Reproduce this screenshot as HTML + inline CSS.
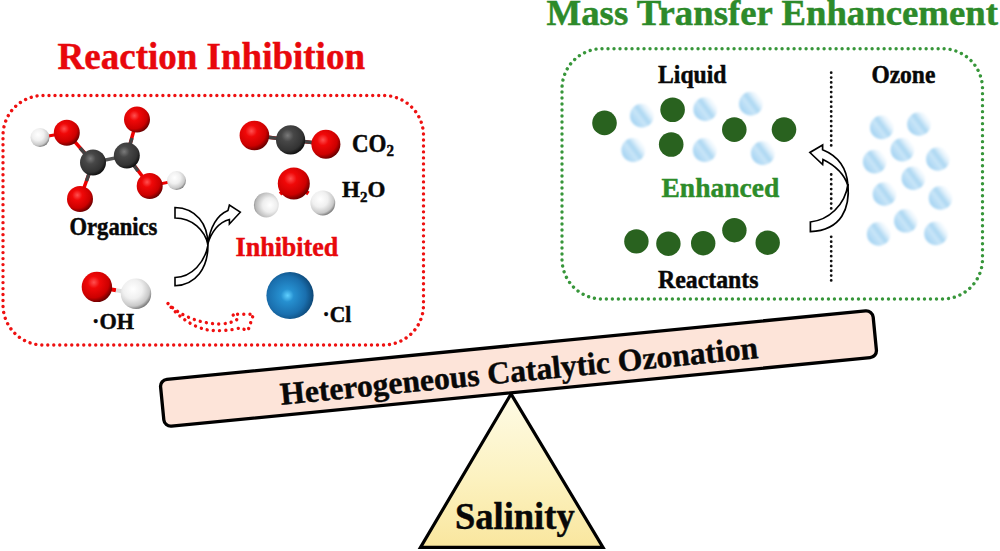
<!DOCTYPE html>
<html><head><meta charset="utf-8">
<style>
html,body{margin:0;padding:0;background:#fff;width:1000px;height:551px;overflow:hidden}
svg{display:block}
text{font-family:"Liberation Serif",serif;font-weight:bold;stroke:currentColor;stroke-width:0.45px;paint-order:stroke}
</style></head>
<body>
<svg width="1000" height="551" viewBox="0 0 1000 551">
<defs>
  <radialGradient id="gO" cx="0.38" cy="0.35" r="0.7" fx="0.4" fy="0.35">
    <stop offset="0" stop-color="#ff5050"/>
    <stop offset="0.28" stop-color="#f00808"/>
    <stop offset="0.72" stop-color="#cc0000"/>
    <stop offset="1" stop-color="#5a0000"/>
  </radialGradient>
  <radialGradient id="gC" cx="0.38" cy="0.35" r="0.7" fx="0.4" fy="0.35">
    <stop offset="0" stop-color="#7a7a7a"/>
    <stop offset="0.3" stop-color="#474747"/>
    <stop offset="0.75" stop-color="#333"/>
    <stop offset="1" stop-color="#080808"/>
  </radialGradient>
  <radialGradient id="gH" cx="0.38" cy="0.35" r="0.7" fx="0.4" fy="0.35">
    <stop offset="0" stop-color="#ffffff"/>
    <stop offset="0.45" stop-color="#f0f0f0"/>
    <stop offset="0.8" stop-color="#c8c8c8"/>
    <stop offset="1" stop-color="#6a6a6a"/>
  </radialGradient>
  <radialGradient id="gHm" cx="0.62" cy="0.5" r="0.72" fx="0.65" fy="0.5">
    <stop offset="0" stop-color="#ffffff"/>
    <stop offset="0.4" stop-color="#eeeeee"/>
    <stop offset="0.78" stop-color="#b8b8b8"/>
    <stop offset="1" stop-color="#555555"/>
  </radialGradient>
  <radialGradient id="gCl" cx="0.42" cy="0.5" r="0.62" fx="0.45" fy="0.5">
    <stop offset="0" stop-color="#5fd0ff"/>
    <stop offset="0.22" stop-color="#2690d0"/>
    <stop offset="0.65" stop-color="#1a6fae"/>
    <stop offset="1" stop-color="#0a3d68"/>
  </radialGradient>
  <linearGradient id="gB" x1="0.1" y1="0.8" x2="0.9" y2="0.2">
    <stop offset="0" stop-color="#a4d3f2"/>
    <stop offset="0.38" stop-color="#c8e5f8"/>
    <stop offset="0.56" stop-color="#acd7f2"/>
    <stop offset="0.8" stop-color="#e6f3fc"/>
    <stop offset="1" stop-color="#ffffff"/>
  </linearGradient>
  <linearGradient id="gTri" x1="0" y1="0" x2="0" y2="1">
    <stop offset="0" stop-color="#fefbe6"/>
    <stop offset="0.55" stop-color="#fcf2c0"/>
    <stop offset="1" stop-color="#f9e69e"/>
  </linearGradient>
  <filter id="blur1" x="-30%" y="-30%" width="160%" height="160%"><feGaussianBlur stdDeviation="1"/></filter>
</defs>

<!-- Titles -->
<text color="#e8080c" transform="translate(57.6,68.7) scale(1,1.0)" font-size="37" fill="#e8080c">Reaction Inhibition</text>
<text color="#2d8a2a" x="546.5" y="25.1" font-size="36.6" fill="#2d8a2a" textLength="451.5" lengthAdjust="spacingAndGlyphs">Mass Transfer Enhancement</text>

<!-- Left dotted box -->
<rect x="3" y="95.5" width="420.5" height="249.5" rx="40" ry="40" fill="none" stroke="#ee1111" stroke-width="3.4" stroke-linecap="round" stroke-dasharray="0.01 5.98491"/>
<!-- Right dotted box -->
<rect x="562" y="48.7" width="420.5" height="250.3" rx="40" ry="40" fill="none" stroke="#37963a" stroke-width="3.4" stroke-linecap="round" stroke-dasharray="0.01 5.99246"/>

<!-- Organics molecule bonds -->
<g stroke-linecap="butt">
  <line x1="40" y1="137.5" x2="66.8" y2="132.7" stroke="#e00" stroke-width="3"/>
  <line x1="66.8" y1="132.7" x2="93" y2="162.5" stroke="#e00" stroke-width="3.5"/>
  <line x1="80" y1="148" x2="93" y2="162.5" stroke="#444" stroke-width="3.5"/>
  <line x1="93" y1="162.5" x2="126.8" y2="155.6" stroke="#555" stroke-width="3.5"/>
  <line x1="126.8" y1="155.6" x2="137" y2="119.6" stroke="#e00" stroke-width="3.5"/>
  <line x1="126.8" y1="155.6" x2="132" y2="138" stroke="#444" stroke-width="3.5"/>
  <line x1="93" y1="162.5" x2="80" y2="199" stroke="#e00" stroke-width="3.5"/>
  <line x1="93" y1="162.5" x2="86.5" y2="181" stroke="#444" stroke-width="3.5"/>
  <line x1="126.8" y1="155.6" x2="149.7" y2="186" stroke="#e00" stroke-width="3.5"/>
  <line x1="126.8" y1="155.6" x2="138" y2="171" stroke="#444" stroke-width="3.5"/>
  <line x1="149.7" y1="186" x2="176.5" y2="180.6" stroke="#e00" stroke-width="3"/>
</g>
<circle cx="40" cy="137.5" r="9.5" fill="url(#gH)"/>
<circle cx="66.8" cy="132.7" r="13" fill="url(#gO)"/>
<circle cx="93" cy="162.5" r="13" fill="url(#gC)"/>
<circle cx="126.8" cy="155.6" r="13" fill="url(#gC)"/>
<circle cx="137" cy="119.6" r="13" fill="url(#gO)"/>
<circle cx="80" cy="199" r="13" fill="url(#gO)"/>
<circle cx="149.7" cy="186" r="13" fill="url(#gO)"/>
<circle cx="176.5" cy="180.6" r="9.5" fill="url(#gH)"/>
<text color="#080808" transform="translate(69.5,235) scale(1,1.08)" font-size="22.6" fill="#080808">Organics</text>

<!-- OH -->
<line x1="96.9" y1="286.9" x2="116" y2="290.2" stroke="#e00" stroke-width="4"/><line x1="116" y1="290.2" x2="136" y2="293.7" stroke="#ddd" stroke-width="4"/>
<circle cx="136" cy="293.7" r="15.2" fill="url(#gH)"/>
<circle cx="96.9" cy="286.9" r="15.2" fill="url(#gO)"/>
<text color="#080808" transform="translate(92,329.2) scale(1,1.05)" font-size="22.2" fill="#080808">·OH</text>

<!-- CO2 -->
<line x1="254.4" y1="135.5" x2="325.9" y2="144.2" stroke="#e00" stroke-width="3.5"/><line x1="268" y1="137.2" x2="312" y2="142.5" stroke="#444" stroke-width="3.5"/>
<circle cx="290.6" cy="139.9" r="14.6" fill="url(#gC)"/>
<circle cx="254.4" cy="135.5" r="14.8" fill="url(#gO)"/>
<circle cx="325.9" cy="144.2" r="14.5" fill="url(#gO)"/>
<text color="#080808" transform="translate(352,151.6) scale(1,1.06)" font-size="23" fill="#080808">CO<tspan font-size="15" dy="4.5">2</tspan></text>

<!-- H2O -->
<line x1="280" y1="194" x2="293.8" y2="183.4" stroke="#e00" stroke-width="4"/>
<line x1="308.5" y1="193.5" x2="293.8" y2="183.4" stroke="#e00" stroke-width="4"/>
<circle cx="293.8" cy="183.4" r="16" fill="url(#gO)"/>
<circle cx="266.3" cy="205" r="12.4" fill="url(#gHm)"/>
<circle cx="322.8" cy="203" r="12.4" fill="url(#gH)"/>
<text color="#080808" x="342" y="197" font-size="23" fill="#080808">H<tspan font-size="15" dy="5">2</tspan><tspan dy="-5">O</tspan></text>

<!-- merge arrow -->
<g fill="#fff" stroke="#000" stroke-width="1.6" stroke-linejoin="miter">
  <path d="M175,207.5 C196,208 208,224 208,245 C205,230 192,218 175,218 Z"/>
  <path d="M175,285.7 C196,285 208,268 208,245 C205,262 192,277 175,277.5 Z"/>
  <path d="M207.5,245 C210,228 217,215 228,210.4 L229.4,205 L240.3,212.2 L229.4,224 L229.4,219.5 C219,222 211,232 207.5,245 Z"/>
</g>

<text color="#e8080c" transform="translate(235.6,255.6) scale(1,1.01)" font-size="26" fill="#e8080c">Inhibited</text>

<!-- dotted red arrow -->
<path d="M168,303.5 C180,316 200,323.5 219,324 C227,324 233,322 237,319.5 L232.5,314.2 L253.5,314.2 L248,330.5 L239.5,328 C232,330.5 215,331.5 207,329.8 C195,327.5 180,319 168,303.5 Z" fill="none" stroke="#f01010" stroke-width="3.4" stroke-linecap="round" stroke-dasharray="0.01 6.2"/>

<!-- Cl -->
<circle cx="290" cy="295.5" r="23.6" fill="url(#gCl)"/>
<text color="#080808" transform="translate(322.5,322.4) scale(1,1.05)" font-size="21.6" fill="#080808">·Cl</text>

<!-- Right box content -->
<text color="#080808" transform="translate(658,82.7) scale(1,1.05)" font-size="23.7" fill="#080808">Liquid</text>
<text color="#080808" transform="translate(871.4,83.4) scale(1,1.08)" font-size="23.5" fill="#080808">Ozone</text>
<text color="#2d8c2a" x="661.5" y="196.8" font-size="27.5" fill="#2d8c2a">Enhanced</text>
<text color="#080808" transform="translate(658,288.1) scale(1,1.08)" font-size="23.8" fill="#080808">Reactants</text>

<g fill="#29621f">
  <circle cx="604.5" cy="122.9" r="12.3"/>
  <circle cx="672.6" cy="109.7" r="12.3"/>
  <circle cx="671.2" cy="144.5" r="12.3"/>
  <circle cx="734.3" cy="129.6" r="12.3"/>
  <circle cx="784" cy="129.6" r="12.3"/>
  <circle cx="636.4" cy="241.4" r="12.2"/>
  <circle cx="668.4" cy="243.7" r="12.2"/>
  <circle cx="703.2" cy="243.2" r="12.2"/>
  <circle cx="734.4" cy="230.2" r="12.2"/>
  <circle cx="767.7" cy="242.7" r="12.2"/>
</g>
<g fill="url(#gB)" filter="url(#blur1)">
  <circle cx="641.9" cy="115.7" r="11.9"/>
  <circle cx="633.3" cy="150" r="11.9"/>
  <circle cx="705.3" cy="109.2" r="11.9"/>
  <circle cx="704.8" cy="150" r="11.9"/>
  <circle cx="750.9" cy="103.7" r="11.9"/>
  <circle cx="762.9" cy="153.1" r="11.9"/>
  <circle cx="881.8" cy="127.4" r="11.8"/>
  <circle cx="919" cy="124" r="11.8"/>
  <circle cx="902.4" cy="149.7" r="11.8"/>
  <circle cx="874.7" cy="161.6" r="11.8"/>
  <circle cx="937.9" cy="159" r="11.8"/>
  <circle cx="913.4" cy="178.2" r="11.8"/>
  <circle cx="884.5" cy="194" r="11.8"/>
  <circle cx="940.5" cy="197.9" r="11.8"/>
  <circle cx="905.8" cy="220.8" r="11.8"/>
  <circle cx="878.7" cy="233.9" r="11.8"/>
  <circle cx="936" cy="233.4" r="11.8"/>
</g>

<!-- dotted vertical line -->
<g stroke="#111" stroke-width="2.8" stroke-linecap="round" stroke-dasharray="0.01 4.84"><line x1="831.2" y1="72.7" x2="831.2" y2="146"/><line x1="831.2" y1="174.5" x2="831.2" y2="212"/><line x1="831.2" y1="236.8" x2="831.2" y2="281"/></g>

<!-- curved arrow right -->
<g fill="#fff" stroke="#000" stroke-width="1.7" stroke-linejoin="miter">
  <path d="M810.4,222 C828,220 845,206 848,184 C850,208 842,230 810.4,231.7 Z"/>
  <path d="M848,186 C847,168 838,156 822.6,149.8 L822.6,144.9 L809.9,152.5 L822.6,164.5 L823,159.6 C836,166 845,176 848,186 Z"/>
</g>
<!-- seesaw -->
<polygon points="511,394 420.5,547.4 603,547.4" fill="url(#gTri)" stroke="#000" stroke-width="3.2" stroke-linejoin="miter"/>
<g transform="translate(518.5,368.5) rotate(-5.6)">
  <rect x="-358" y="-23.5" width="716" height="47" rx="7" ry="7" fill="#fde4d9" stroke="#000" stroke-width="3.3"/>
  <text color="#080808" x="0.3" y="13" font-size="31.7" fill="#080808" text-anchor="middle">Heterogeneous Catalytic Ozonation</text>
</g>
<text color="#080808" transform="translate(455,529.2) scale(1,1.03)" font-size="36.5" fill="#080808">Salinity</text>
</svg>
</body></html>
